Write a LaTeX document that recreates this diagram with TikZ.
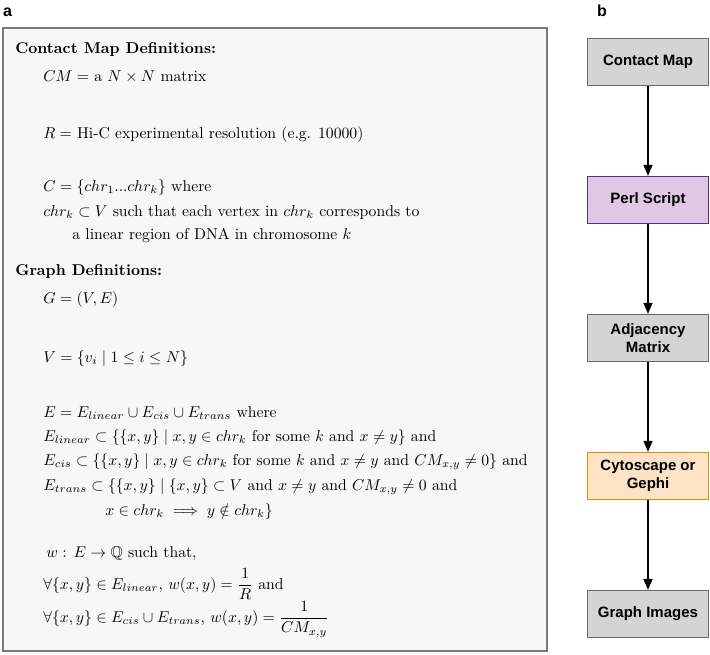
\RequirePackage{fix-cm}
\documentclass[tikz,border=0pt]{standalone}
\usepackage{amsmath,amssymb}
\usepackage{fontspec}
\newfontfamily\hel{Liberation Sans}
\usetikzlibrary{arrows.meta}
\definecolor{panelfill}{HTML}{F7F7F7}
\definecolor{panelline}{HTML}{7A7A7A}
\definecolor{grayfill}{HTML}{D4D4D4}
\definecolor{grayline}{HTML}{6A6A6A}
\definecolor{purpfill}{HTML}{DEC8E2}
\definecolor{purpline}{HTML}{5A2D86}
\definecolor{orgfill}{HTML}{FDE2C6}
\definecolor{orgline}{HTML}{D8900A}
\tikzset{
  txt/.style={anchor=base west, inner sep=0pt, scale=1.57, font=\fontsize{10}{12}\selectfont},
  hdr/.style={txt, font=\fontsize{10}{12}\selectfont\bfseries},
  flowbox/.style={draw=grayline, fill=grayfill, line width=1.3pt, minimum width=121pt, minimum height=47pt, align=center, inner sep=2pt, font=\hel\bfseries\fontsize{15}{18}\selectfont},
  flowarrow/.style={line width=1.5pt, -{Triangle[length=11pt,width=9pt]}},
  panellabel/.style={anchor=base west, inner sep=0pt, font=\hel\bfseries\fontsize{16}{18}\selectfont}
}
\begin{document}
\begin{tikzpicture}[x=1pt,y=-1pt]
\useasboundingbox (0,0) rectangle (710,654);
\node[panellabel] (la) at (3,16) {a};
\node[panellabel] (lb) at (597,16) {b};
\draw[draw=panelline, fill=panelfill, line width=2pt] (3,28) rectangle (547,651);

\node[hdr] (h1) at (15,53) {Contact Map Definitions:};
\node[txt] (t1) at (43,81) {$CM=$ a $N\times N$ matrix};
\node[txt] (t2) at (43,138) {$R=$\ Hi-C experimental resolution (e.g. 10000)};
\node[txt] (t3) at (43,191) {$C=\{chr_1...chr_k\}$ where};
\node[txt] (t4) at (43,216) {$chr_k\subset V$ such that each vertex in $chr_k$ corresponds to};
\node[txt] (t5) at (72,239) {a linear region of DNA in chromosome $k$};

\node[hdr] (h2) at (15,275) {Graph Definitions:};
\node[txt] (t6) at (43,303) {$G=(V,E)$};
\node[txt] (t7) at (43,362) {$V=\{v_i\mid 1\leq i\leq N\}$};
\node[txt] (t8) at (43,417) {$E=E_{linear}\cup E_{cis}\cup E_{trans}$ where};
\node[txt] (t9) at (43,441) {$E_{linear}\subset\{\{x,y\}\mid x,y\in chr_k$ for some $k$ and $x\neq y\}$ and};
\node[txt] (t10) at (43,465) {$E_{cis}\subset\{\{x,y\}\mid x,y\in chr_k$ for some $k$ and $x\neq y$ and $CM_{x,y}\neq 0\}$ and};
\node[txt] (t11) at (43,490) {$E_{trans}\subset\{\{x,y\}\mid \{x,y\}\subset V$ and $x\neq y$ and $CM_{x,y}\neq 0$ and};
\node[txt] (t12) at (105,515) {$x\in chr_k\implies y\notin chr_k\}$};
\node[txt] (t13) at (46,557) {$w:\,E\rightarrow\mathbb{Q}$ such that,};
\node[txt] (t14) at (43,589) {$\forall\{x,y\}\in E_{linear},\,w(x,y)=\dfrac{1}{R}$ and};
\node[txt] (t15) at (43,622) {$\forall\{x,y\}\in E_{cis}\cup E_{trans},\,w(x,y)=\dfrac{1}{CM_{x,y}}$};

\node[flowbox] (cm) at (648,62) {Contact Map};
\node[flowbox, draw=purpline, fill=purpfill] (perl) at (648,200) {Perl Script};
\node[flowbox] (adj) at (648,338) {Adjacency\\Matrix};
\node[flowbox, draw=orgline, fill=orgfill] (cyto) at (648,476) {Cytoscape or\\Gephi};
\node[flowbox] (gi) at (648,614) {Graph Images};

\draw[flowarrow] (cm) -- (perl);
\draw[flowarrow] (perl) -- (adj);
\draw[flowarrow] (adj) -- (cyto);
\draw[flowarrow] (cyto) -- (gi);
\end{tikzpicture}
\end{document}
